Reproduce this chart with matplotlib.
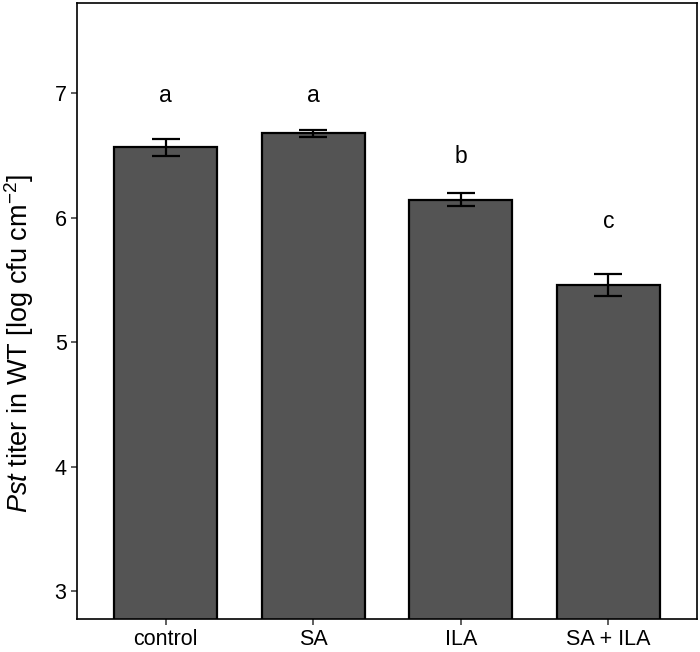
import matplotlib.pyplot as plt
import numpy as np

plt.rcParams['font.family'] = ['Liberation Sans', 'DejaVu Sans']
plt.rcParams['mathtext.fontset'] = 'custom'
plt.rcParams['mathtext.rm'] = 'Liberation Sans'
plt.rcParams['mathtext.it'] = 'Liberation Sans:italic'

# data
treatments = ['control', 'SA', 'ILA', 'SA + ILA']
mean_titer = [6.565, 6.678, 6.145, 5.458]
se_titer = [0.068, 0.026, 0.052, 0.09]
letters = ['a', 'a', 'b', 'c']
letter_y = [6.98, 6.98, 6.49, 5.97]

fig = plt.figure(figsize=(7.0, 6.52), dpi=100)
ax = fig.add_axes([77 / 700, 33 / 652, 620 / 700, 616 / 652])

x = np.arange(len(treatments))
ax.bar(x, mean_titer, width=0.7, bottom=0, color='#545454',
       edgecolor='black', linewidth=1.6, zorder=2)
ax.errorbar(x, mean_titer, yerr=se_titer, fmt='none', ecolor='black',
            elinewidth=1.6, capsize=10.4, capthick=1.6, zorder=3)
for xi, lab, ly in zip(x, letters, letter_y):
    ax.text(xi, ly, lab, ha='center', va='center', fontsize=16.5, color='black')

ax.set_xlim(-0.6, 3.6)
ax.set_ylim(2.775, 7.725)
ax.set_yticks([3, 4, 5, 6, 7])
ax.set_xticks(x)
ax.set_xticklabels(treatments)
ax.tick_params(axis='both', labelsize=15.5, length=4.5, width=1.1,
               color='#333333', labelcolor='black', direction='out', pad=3)
ax.set_ylabel(r'$\it{Pst}$ titer in WT [log cfu cm$^{-2}$]', fontsize=19.5)
ax.yaxis.set_label_coords(-0.066, 0.447)
for sp in ax.spines.values():
    sp.set_linewidth(1.2)
    sp.set_color('black')

fig.savefig('out.png', dpi=100)
